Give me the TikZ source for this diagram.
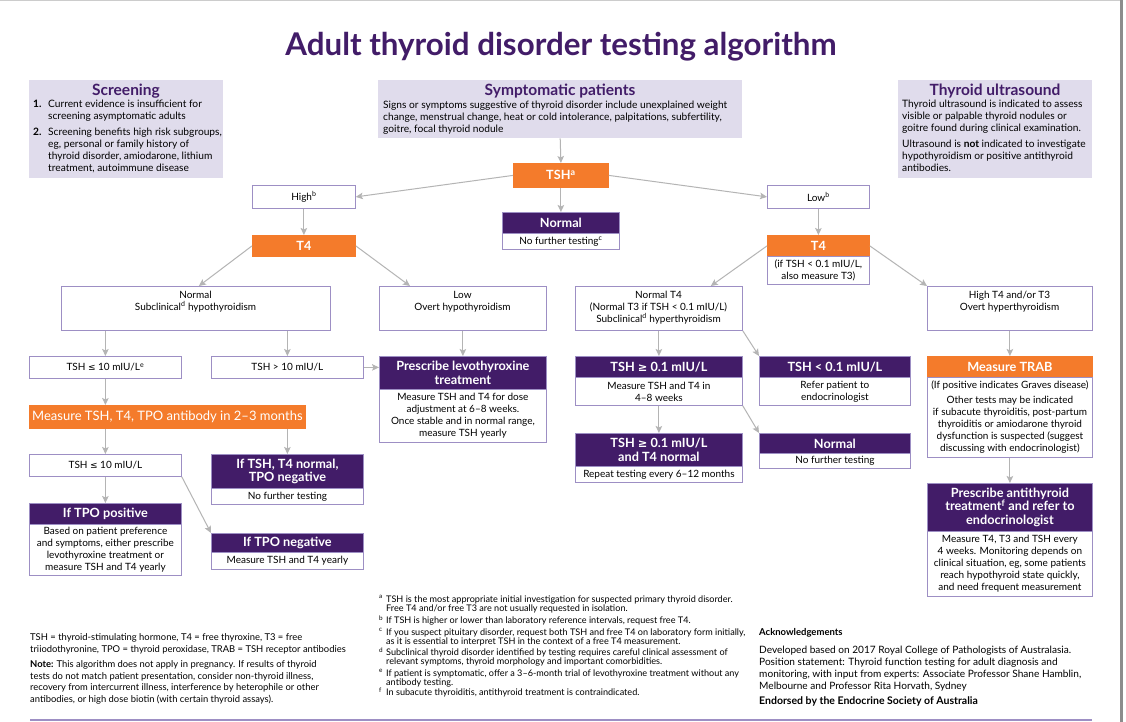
\documentclass[tikz,border=0pt]{standalone}
\usepackage{fontspec}
\setmainfont{Lato}
\newfontfamily\symf[Scale=0.9]{DejaVu Sans}
\usetikzlibrary{arrows.meta,calc}
\definecolor{purp}{HTML}{421C68}
\definecolor{orng}{HTML}{F47B2B}
\definecolor{lav}{HTML}{E0DCEC}
\definecolor{bord}{HTML}{9D8FC4}
\definecolor{arrg}{HTML}{B4B4B4}
\newcommand{\myle}{{\symf ≤}}
\newcommand{\myge}{{\symf ≥}}
\newcommand\hdfont{\fontsize{12.7}{13.5}\selectfont\bfseries}
\newcommand\bdfont{\fontsize{10}{12}\selectfont}
\newcommand\infont{\fontsize{10.2}{12}\selectfont}
\newcommand\ttlfont{\fontsize{15.5}{17}\selectfont\bfseries}
\newcommand\fnfont{\fontsize{9.1}{9.3}\selectfont}
\newcommand\lgfont{\fontsize{9.4}{11.5}\selectfont}
\newcommand\akfont{\fontsize{10.1}{12}\selectfont}
\tikzset{
 hd/.style={fill=purp, draw=bord, line width=0.8pt, text=white, align=center, anchor=north west, inner sep=0pt, font=\hdfont},
 ohd/.style={hd, fill=orng, draw=orng},
 bd/.style={fill=white, draw=bord, line width=0.8pt, align=center, anchor=north west, inner sep=0pt, font=\bdfont},
 lavbox/.style={fill=lav, anchor=north west, inner sep=0pt},
 txt/.style={align=left, anchor=north west, inner sep=0pt, font=\infont},
 ctxt/.style={align=center, anchor=north, inner sep=0pt, font=\bdfont},
 ttl/.style={font=\ttlfont, text=purp, inner sep=0pt},
 fn/.style={align=left, anchor=north west, inner sep=0pt, font=\fnfont},
 fnm/.style={anchor=north west, inner sep=0pt, font=\fnfont},
 lg/.style={align=left, anchor=north west, inner sep=0pt, font=\lgfont},
 ak/.style={align=left, anchor=north west, inner sep=0pt, font=\akfont},
 arr/.style={draw=arrg, line width=1pt, -{Stealth[length=7pt,width=6.5pt,inset=1.5pt]}},
}
\begin{document}
\begin{tikzpicture}[x=1pt,y=-1pt]
\useasboundingbox (0,0) rectangle (1126,722);
\fill[white] (0,0) rectangle (1126,722);
\draw[black!20, line width=1pt] (0,1) -- (1120,1);
\fill[black!45] (1120,0) rectangle (1123,722);

% title
\node[font=\fontsize{31.3}{33}\selectfont\bfseries, text=purp, inner sep=0pt] (title) at (561,47) {Adult thyroid disorder testing algorithm};

% info boxes
\node[lavbox, minimum width=194, minimum height=98] (scr) at (29,80) {};
\node[ttl] (scrT) at (126,91) {Screening};
\node[txt, font=\infont\bfseries] (n1) at (33,99.5) {1.};
\node[txt] (s1) at (48,99.5) {Current evidence is insufficient for\\screening asymptomatic adults};
\node[txt, font=\infont\bfseries] (n2) at (33,127.5) {2.};
\node[txt] (s2) at (48,127.5) {Screening benefits high risk subgroups,\\eg, personal or family history of\\thyroid disorder, amiodarone, lithium\\treatment, autoimmune disease};

\node[lavbox, minimum width=364, minimum height=58] (symp) at (378,80) {};
\node[ttl] (sympT) at (560,91) {Symptomatic patients};
\node[txt] (sympX) at (383,100.5) {Signs or symptoms suggestive of thyroid disorder include unexplained weight\\change, menstrual change, heat or cold intolerance, palpitations, subfertility,\\goitre, focal thyroid nodule};

\node[lavbox, minimum width=194, minimum height=98] (us) at (898,80) {};
\node[ttl] (usT) at (995,91) {Thyroid ultrasound};
\node[txt] (us1) at (902,99.5) {Thyroid ultrasound is indicated to assess\\visible or palpable thyroid nodules or\\goitre found during clinical examination.};
\node[txt] (us2) at (902,139.5) {Ultrasound is \textbf{not} indicated to investigate\\hypothyroidism or positive antithyroid\\antibodies.};

% flowchart nodes
\node[ohd, minimum width=95, minimum height=24] (tsh) at (513,163) {TSH\textsuperscript{a}};
\node[bd, minimum width=103, minimum height=23] (high) at (252,185) {High\textsuperscript{b}};
\node[bd, minimum width=102, minimum height=23] (low) at (767,185) {Low\textsuperscript{b}};
\node[hd, minimum width=117, minimum height=21] (nrmH) at (502,212) {Normal};
\node[bd, minimum width=117, minimum height=16] (nrmB) at (502,233) {No further testing\textsuperscript{c}};
\node[ohd, minimum width=103, minimum height=21] (t4L) at (252,235) {T4};
\node[ohd, minimum width=102, minimum height=21] (t4RH) at (767,235) {T4};
\node[bd, minimum width=102, minimum height=28] (t4RB) at (767,256) {(if TSH < 0.1 mIU/L,\\also measure T3)};

\node[bd, minimum width=269, minimum height=44] (normL) at (61,286) {};
\node[ctxt] (normLt) at (195.5,291) {Normal\\Subclinical\textsuperscript{d} hypothyroidism};
\node[bd, minimum width=167, minimum height=44] (lowL) at (379,286) {};
\node[ctxt] (lowLt) at (462.5,291) {Low\\Overt hypothyroidism};
\node[bd, minimum width=167, minimum height=44] (normT4) at (575,286) {};
\node[ctxt] (normT4t) at (658.5,291) {Normal T4\\(Normal T3 if TSH < 0.1 mIU/L)\\Subclinical\textsuperscript{d} hyperthyroidism};
\node[bd, minimum width=165, minimum height=44] (highT4) at (927,286) {};
\node[ctxt] (highT4t) at (1009.5,291) {High T4 and/or T3\\Overt hyperthyroidism};

\node[bd, minimum width=152, minimum height=22] (tshle) at (29,356) {TSH \myle{} 10 mIU/L\textsuperscript{e}};
\node[bd, minimum width=152, minimum height=22] (tshgt) at (211,356) {TSH > 10 mIU/L};
\node[hd, minimum width=167, minimum height=33] (prescH) at (379,356) {Prescribe levothyroxine\\treatment};
\node[bd, minimum width=167, minimum height=53] (prescB) at (379,389) {Measure TSH and T4 for dose\\adjustment at 6–8 weeks.\\Once stable and in normal range,\\measure TSH yearly};
\node[hd, minimum width=167, minimum height=21] (tshgeH) at (575,356) {TSH \myge{} 0.1 mIU/L};
\node[bd, minimum width=167, minimum height=28] (tshgeB) at (575,377) {Measure TSH and T4 in\\4–8 weeks};
\node[hd, minimum width=151, minimum height=21] (tshltH) at (759,356) {TSH < 0.1 mIU/L};
\node[bd, minimum width=151, minimum height=28] (tshltB) at (759,377) {Refer patient to\\endocrinologist};
\node[ohd, minimum width=165, minimum height=21] (trabH) at (927,356) {Measure TRAB};
\node[bd, minimum width=165, minimum height=80] (trabB) at (927,377) {(If positive indicates Graves disease)\\[3pt]Other tests may be indicated\\if subacute thyroiditis, post-partum\\thyroiditis or amiodarone thyroid\\dysfunction is suspected (suggest\\discussing with endocrinologist)};

\node[ohd, minimum width=276, minimum height=23, font={\fontsize{13}{15}\selectfont}] (measure) at (29,405) {Measure TSH, T4, TPO antibody in 2–3 months};
\node[hd, minimum width=167, minimum height=33] (tshge2H) at (575,433) {TSH \myge{} 0.1 mIU/L\\and T4 normal};
\node[bd, minimum width=167, minimum height=16] (tshge2B) at (575,466) {Repeat testing every 6–12 months};
\node[hd, minimum width=151, minimum height=20] (normRH) at (759,433) {Normal};
\node[bd, minimum width=151, minimum height=15] (normRB) at (759,453) {No further testing};
\node[bd, minimum width=152, minimum height=22] (tshle2) at (29,454) {TSH \myle{} 10 mIU/L};
\node[hd, minimum width=152, minimum height=34] (tsht4H) at (211,454) {If TSH, T4 normal,\\TPO negative};
\node[bd, minimum width=152, minimum height=16] (tsht4B) at (211,488) {No further testing};
\node[hd, minimum width=165, minimum height=48] (antiH) at (927,483) {Prescribe antithyroid\\treatment\textsuperscript{f} and refer to\\endocrinologist};
\node[bd, minimum width=165, minimum height=65] (antiB) at (927,531) {Measure T4, T3 and TSH every\\4 weeks. Monitoring depends on\\clinical situation, eg, some patients\\reach hypothyroid state quickly,\\and need frequent measurement};
\node[hd, minimum width=152, minimum height=21] (tpoposH) at (29,503) {If TPO positive};
\node[bd, minimum width=152, minimum height=51] (tpoposB) at (29,524) {Based on patient preference\\and symptoms, either prescribe\\levothyroxine treatment or\\measure TSH and T4 yearly};
\node[hd, minimum width=152, minimum height=19] (tponegH) at (211,533) {If TPO negative};
\node[bd, minimum width=152, minimum height=17] (tponegB) at (211,552) {Measure TSH and T4 yearly};

% connectors
\draw[arr] (symp.south) -- (tsh.north);
\draw[arr] (tsh.west) -- (high.east);
\draw[arr] (tsh.east) -- (low.west);
\draw[arr] (tsh.south) -- (nrmH.north);
\draw[arr] (high.south) -- (t4L.north);
\draw[arr] (low.south) -- (t4RH.north);
\draw[arr] (t4L.west) -- ($(normL.north)+(3,0)$);
\draw[arr] (t4L.east) -- ($(lowL.north west)+(31,0)$);
\draw[arr] (t4RH.west) -- ($(normT4.north east)+(-32,0)$);
\draw[arr] (t4RH.east) -- (highT4.north west);
\draw[arr] (normL.south -| tshle.north) -- (tshle.north);
\draw[arr] (normL.south -| tshgt.north) -- (tshgt.north);
\draw[arr] (tshgt.east) -- (tshgt.east -| prescH.west);
\draw[arr] (lowL.south) -- (prescH.north);
\draw[arr] (tshle.south) -- (tshle.south |- measure.north);
\draw[arr] (measure.south -| tshle2.north) -- (tshle2.north);
\draw[arr] (measure.south -| tsht4H.north) -- (tsht4H.north);
\draw[arr] (tshle2.south) -- (tpoposH.north);
\draw[arr] (tshle2.south east) -- (tponegH.north west);
\draw[arr] (normT4.south) -- (tshgeH.north);
\draw[arr] (normT4.south east) -- (tshltH.north west);
\draw[arr] (tshgeB.south) -- (tshge2H.north);
\draw[arr] (tshgeB.south east) -- (normRH.north west);
\draw[arr] (highT4.south) -- (trabH.north);
\draw[arr] (trabB.south) -- (antiH.north);

% footnotes
\node[fnm] (ma) at (379,595) {\textsuperscript{a}};
\node[fn] (fa) at (386,595.6) {TSH is the most appropriate initial investigation for suspected primary thyroid disorder.\\Free T4 and/or free T3 are not usually requested in isolation.};
\node[fnm] (mb) at (379,616) {\textsuperscript{b}};
\node[fn] (fb) at (386,616.6) {If TSH is higher or lower than laboratory reference intervals, request free T4.};
\node[fnm] (mc) at (379,628) {\textsuperscript{c}};
\node[fn] (fc) at (386,628.6) {If you suspect pituitary disorder, request both TSH and free T4 on laboratory form initially,\\as it is essential to interpret TSH in the context of a free T4 measurement.};
\node[fnm] (md) at (379,648) {\textsuperscript{d}};
\node[fn] (fd) at (386,648.6) {Subclinical thyroid disorder identified by testing requires careful clinical assessment of\\relevant symptoms, thyroid morphology and important comorbidities.};
\node[fnm] (me) at (379,669) {\textsuperscript{e}};
\node[fn] (fe) at (386,669.6) {If patient is symptomatic, offer a 3–6-month trial of levothyroxine treatment without any\\antibody testing.};
\node[fnm] (mf) at (379,688) {\textsuperscript{f}};
\node[fn] (ff) at (386,688.6) {In subacute thyroiditis, antithyroid treatment is contraindicated.};

% legend
\node[lg] (leg) at (30,633.6) {TSH = thyroid-stimulating hormone, T4 = free thyroxine, T3 = free\\triiodothyronine, TPO = thyroid peroxidase, TRAB = TSH receptor antibodies};
\node[lg] (note) at (30,660.6) {\textbf{Note:} This algorithm does not apply in pregnancy. If results of thyroid\\tests do not match patient presentation, consider non-thyroid illness,\\recovery from intercurrent illness, interference by heterophile or other\\antibodies, or high dose biotin (with certain thyroid assays).};

% acknowledgements
\node[ak, font=\fontsize{9.5}{12}\selectfont\bfseries] (ack) at (759,628.5) {Acknowledgements};
\node[ak] (dev) at (759,646.3) {Developed based on 2017 Royal College of Pathologists of Australasia.\\Position statement: Thyroid function testing for adult diagnosis and\\monitoring, with input from experts: Associate Professor Shane Hamblin,\\Melbourne and Professor Rita Horvath, Sydney};
\node[ak, font=\fontsize{10.5}{12}\selectfont\bfseries] (endo) at (759,696.2) {Endorsed by the Endocrine Society of Australia};

\draw[bord, line width=1.2pt] (30,720) -- (1092,720);
\end{tikzpicture}
\end{document}
